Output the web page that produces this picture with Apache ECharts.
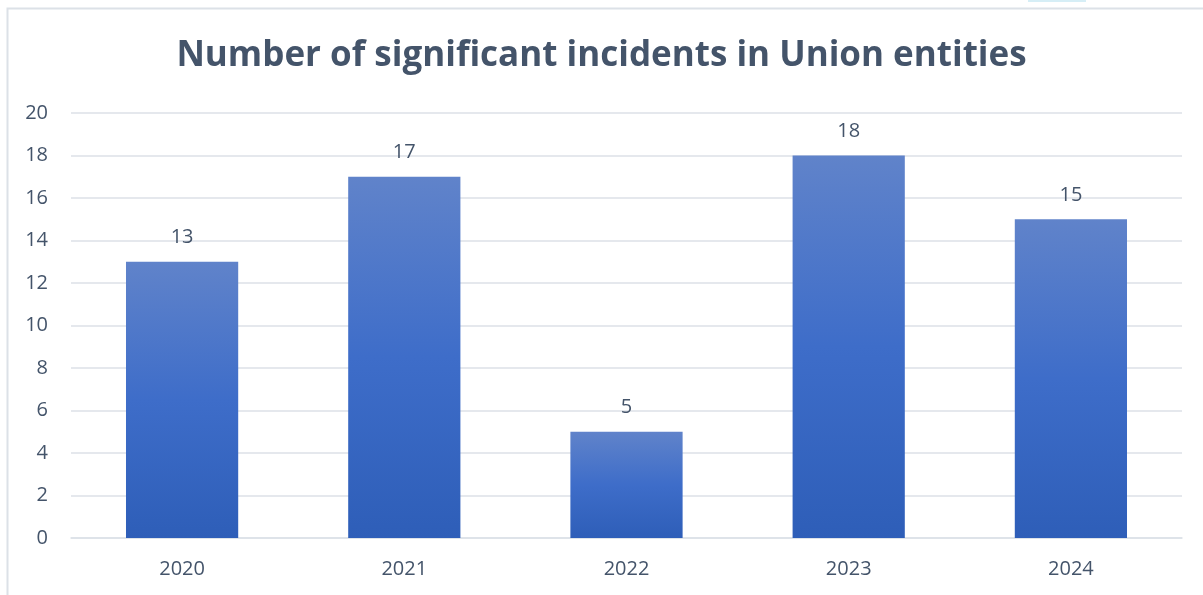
<!DOCTYPE html>
<html><head><meta charset="utf-8">
<script src="https://cdn.jsdelivr.net/npm/echarts@6/dist/echarts.min.js"></script>
<style>html,body{margin:0;padding:0;background:#fff}#c{width:1203px;height:595px}</style>
</head><body><div id="c"></div>
<script>
const categories = ['2020','2021','2022','2023','2024'];
const incidents = [13, 17, 5, 18, 15];
const yTicks = { min: 0, max: 20, interval: 2 };
const titleText = 'Number of significant incidents in Union entities';

const chart = echarts.init(document.getElementById('c'), null, {renderer:'canvas'});
const txt = '#44546A';
chart.setOption({
  animation: false,
  backgroundColor: '#fff',
  title: {
    text: titleText, left: 'center', top: 34,
    textStyle: { fontFamily: 'Open Sans', fontWeight: 'bold', fontSize: 35, color: txt }
  },
  graphic: [
    { type: 'polyline', shape: { points: [[7.5, 595], [7.5, 8.5], [1203, 8.5]] }, style: { stroke: '#DCE1E7', lineWidth: 2, fill: null } },
    { type: 'rect', shape: { x: 1028, y: 0, width: 58, height: 2 }, style: { fill: '#D6EEF6' } }
  ],
  grid: { left: 71, right: 21, top: 113, bottom: 57, containLabel: false },
  xAxis: {
    type: 'category', data: categories,
    axisLine: { show: true, lineStyle: { color: '#DCE1E7', width: 1.5 } },
    axisTick: { show: false },
    axisLabel: { color: txt, fontSize: 20, fontFamily: 'Open Sans', margin: 21 }
  },
  yAxis: {
    type: 'value', min: yTicks.min, max: yTicks.max, interval: yTicks.interval,
    axisLine: { show: false }, axisTick: { show: false },
    axisLabel: { color: txt, fontSize: 20, fontFamily: 'Open Sans', margin: 23 },
    splitLine: { lineStyle: { color: '#DCE1E7', width: 1.5 } }
  },
  series: [{
    type: 'bar', data: incidents, barWidth: '50.5%',
    itemStyle: {
      color: new echarts.graphic.LinearGradient(0, 0, 0, 1, [
        { offset: 0, color: '#6083CA' },
        { offset: 0.5, color: '#3E6DC9' },
        { offset: 1, color: '#2E5EB8' }
      ])
    },
    label: { show: true, position: 'top', distance: 14, color: txt, fontSize: 20, fontFamily: 'Open Sans' }
  }]
});
</script></body></html>
